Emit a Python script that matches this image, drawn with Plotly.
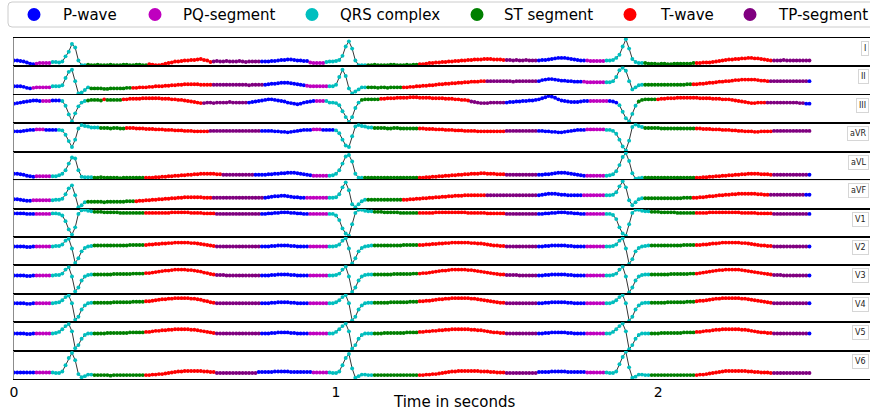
import plotly.graph_objects as go
from plotly.subplots import make_subplots

FS = 100  # samples per second
LEADS = ["I", "II", "III", "aVR", "aVL", "aVF", "V1", "V2", "V3", "V4", "V5", "V6"]
CLASSES = ["P-wave", "PQ-segment", "QRS complex", "ST segment", "T-wave", "TP-segment"]
CODES = ["P", "PQ", "QRS", "ST", "T", "TP"]
COLORS = ["#0000ff", "#bf00bf", "#00bfbf", "#008000", "#ff0000", "#800080"]
X_TICKS = [0, 1, 2]

# ---- signal amplitudes (arbitrary units), one sample every 10 ms ----
SIG_I = [5,5,4,3,1,-1,-2, -1,0,0,0,0, 2,2,1,3,13,22,37,30,5,-4,-4,
         -3,-4,-4,-3,-4,-4,-4,-3,-4,-4,-4,-3,-3,-4,-4,-3,-3,-4,-4,
         -2,-3,-4,-4,-3,-1,0,1,3,3,4,5,5,6,6,7,8,6,5,2,
         3,4,3,3,4,3,3,3,4,3,2,3,3,3,3,
         3,3,3,4,4,5,6,6,7,7,6,5,5,4,4,
         1,0,0,0,0,
         2,3,3,4,6,14,32,42,28,5,-4,-4,-4,
         -4,-4,-3,-4,-4,-4,-4,-3,-3,-4,-4,-4,-3,-4,-3,-3,
         -2,-2,-1,0,0,1,1,2,2,3,3,4,4,5,5,6,6,7,7,7,8,8,8,7,7,7,6,
         6,6,5,6,5,5,6,5,5,5,
         5,6,6,7,8,9,10,10,10,9,8,7,6,5,5,
         5,4,4,4,4,4,
         5,5,6,10,16,32,46,28,8,2,0,0,
         0,-1,-1,-1,-2,-1,-1,-2,-2,-1,-1,-1,-1,-1,-1,0,
         0,0,1,1,1,2,3,4,5,6,7,7,8,8,9,9,10,10,9,9,8,7,6,5,
         5,5,5,6,5,5,5,5,5,5,5,5]
SIG_II = [3,3,3,2,0,-1, 0,1,1,1,1,1, 3,3,3,5,19,31,35,13,-11,-9,-4,1,
          -1,-1,-1,-1,-2,-2,-1,-1,-1,-1,-1,0,0,
          0,0,1,1,1,2,2,3,3,3,4,4,5,5,6,6,7,7,7,7,7,6,6,6,6,
          6,6,6,6,6,6,6,6,6,6,6,5,6,6,6,6,
          6,7,8,8,9,10,10,10,9,8,7,6,5,
          4,3,3,3,3,3,3,
          3,3,6,21,35,23,-1,-11,-7,-3,1,1,
          1,1,1,0,1,1,0,1,1,1,1,
          1,1,2,2,3,3,4,4,5,5,6,7,7,8,8,9,9,10,10,11,11,12,12,12,13,13,
          13,13,13,13,13,13,13,13,12,13,13,13,13,13,13,13,
          13,15,16,17,17,16,15,14,14,13,13,12,12,12,
          12,11,11,11,11,11,11,
          11,11,13,21,34,39,33,13,-3,1,5,6,
          6,6,6,6,6,6,6,6,6,6,6,6,6,7,7,
          7,7,8,8,9,10,10,11,12,12,13,13,14,15,15,16,16,16,16,16,15,14,14,13,
          13,13,13,13,13,13,13,13,13,13,13,13,
          13]
SIG_III = [-5,-4,-3,-2,-1,0,1,1,0, 0,0,0, 1,1,1, 0,-9,-25,-38,-23,-10,-3,0,
           1,2,2,2,1, 3, 2,2,2,2,2,
           3,3,4,4,4,4,5,5,5,5,5,5,4,4,4,3,3,2,2,1,0,-1,-2,-3,-4,
           -4,-3,-3,-4,-3,-3,-3,-3,-2,-3,-3,-3,-3,-3,
           -3,-2,-1,0,1,2,3,3,2,1,0,-1,-3,-4,-5,-6,-5,-3,-2,-1,0,
           0,0,0,
           0,-3,-3,-4,-8,-19,-30,-39,-30,-13,-3,
           2,3,3,3,3,3,
           4,4,5,5,5,6,6,6,6,7,7,7,6,6,6,6,5,5,5,5,4,4,4,3,3,2,2,1,
           -1,-2,-3,-4,-4,-4,-3,-3,-3,-3,-3,
           -3,-2,-2,-1,-1,0,0,1,1,2,3,5,7,9,8,6,3,1,0,-1,-2,-2,-2,-1,0,0,
           0,0,0,0,0,0,
           0,-1,-3,
           -8,-20,-32,-38,-24,-9,
           -1,2,3,3,3,3,
           3,4,4,5,5,5,6,6,6,6,6,6,6,5,5,5,5,4,4,4,3,3,3,2,1,0,-1,-2,-3,-4,-4,-3,-3,-3,
           -3,-3,-3,-3,-3,-3,-3,-3,-3,-3,-4,-4,
           -5,-5]
SIG_AVR = [-1,-1,-1,0,1,2,2, 3,3,3, 2,2,2,2,
           2,1,-8,-21,-33,-18,5,12,10,9,7,7,7,
           6,6,6,5,6,6,5,5,
           6,6,6,5,5,5,4,4,4,3,3,3,2,2,2,1,1,1,0,0,0,-1,-1,-1,-1,-1,
           0,0,0,0,0,0,0,0,0,0,0,0,0,0,0,0,
           0,0,0,0,-1,-1,-2,-2,-3,-2,-1,0,1,2,2,2,
           3,3,3, 2,2,2,2,
           1,-5,-18,-30,-33,-11,9,12,10,9,7,7,
           6,6,6,6,5,5,6,6,5,5,5,5,5,5,
           5,5,4,4,4,3,3,3,2,2,2,1,1,1,0,0,0,0,-1,-1,-1,-1,-1,-1,-1,-1,-1,
           0,0,0,0,0,0,0,0,0,0,
           0,0,-1,-1,-2,-2,-3,-3,-2,-1,0,1,2,2,2,
           3,3,3,3,3,3,
           2,2,0,-6,-18,-32,-40,-20,8,13,10,8,
           6,6,6,6,6,5,5,5,5,5,5,5,5,5,5,5,
           5,5,4,4,4,3,3,3,2,2,2,1,1,0,0,-1,-1,-1,-2,-2,-1,-1,-1,-1,
           0,0,0,0,0,0,0,0,0,0,0,0]
SIG_AVL = [5,5,4,3,1,0,-1, 0,0,0,0,0,
           0,0,2,5,12,25,37,35,12,-1,-2,-2,-2,
           -3,-3,-2,-3,-3,-3,-3,-3,-4,-3,-3,-3,-3,-3,-3,-3,
           -3,-3,-3,-2,-2,-1,-1,0,0,1,1,2,2,3,3,4,4,5,5,5,5,5,4,4,
           3,3,3,3,3,3,3,3,3,3,
           3,3,3,3,4,4,5,5,6,6,7,7,7,6,5,4,3,2,
           1,1,1,1,1,
           1,2,5,12,25,39,42,29,5,-3,-3,
           -3,-3,-3,-3,-3,-3,-3,-3,-3,-3,-3,-3,-3,-3,-3,-3,-3,
           -3,-3,-2,-2,-1,-1,0,0,1,1,2,2,3,3,4,4,5,5,5,6,6,5,5,5,4,4,4,
           3,3,3,3,3,3,3,3,3,3,
           3,3,4,4,5,6,7,7,7,6,5,4,3,2,1,
           1,1,1,1,1,1,
           1,2,4,10,22,38,46,30,6,-5,-4,-3,
           -3,-3,-3,-3,-3,-3,-3,-3,-3,-3,-3,-3,-3,-3,-3,-3,
           -3,-3,-2,-2,-1,-1,0,0,1,1,2,2,3,3,4,4,5,5,5,5,4,4,4,3,
           3,3,3,3,3,3,3,3,3,3,3,
           3]
SIG_AVF = [2,2,1,0,-1,-1, 0,0,0,0,0,0,
           0,1,1,3,12,24,30,10,-14,-10,-4,
           -3,-3,-3,-3,-3,-4,-3,-3,-3,-3,-3,-3,-2,-2,-2,
           -2,-1,-1,0,0,1,1,2,2,3,3,4,4,5,5,6,6,6,6,6,6,5,5,5,
           5,5,5,5,5,5,5,5,5,5,5,5,5,5,5,5,
           5,6,7,8,8,9,9,8,7,6,6,5,5,
           5,5,5,5,5,5,5,
           5,5,6,12,26,36,20,-8,-14,-8,-2,1,
           1,1,1,1,1,1,1,1,1,1,1,
           1,1,2,2,3,3,4,4,5,5,6,6,7,7,8,8,9,9,9,10,10,10,10,10,10,10,
           10,10,10,10,10,10,10,10,10,10,10,10,10,10,10,10,
           10,11,12,13,13,13,12,11,11,10,10,10,10,10,
           10,10,10,10,10,10,10,
           10,10,11,16,28,38,26,0,-10,-4,2,4,
           4,4,4,4,4,4,4,4,4,4,4,4,5,5,5,
           5,5,6,6,7,8,8,9,10,10,11,11,12,12,13,13,13,13,13,13,12,12,11,11,
           11,11,11,11,11,11,11,11,11,11,11,
           11,11]
SIG_V1 = [1,1,1,1,0,0,0, 0,0,0,0,0,
          1,1,0,-3,-14,-30,-40,-26,0,7,8,6,5,
          4,4,4,3,3,3,3,3,2,2,2,2,2,2,2,2,
          2,2,2,2,2,2,2,2,3,3,3,3,3,3,2,2,2,2,1,1,1,1,
          0,0,0,0,0,0,0,0,0,0,0,0,0,0,
          0,0,1,1,2,2,3,3,3,2,2,1,1,0,0,
          0,0,0,0,0,0,
          0,0,-3,-12,-28,-38,-42,-20,2,8,8,6,5,5,
          4,4,4,3,3,3,3,3,2,2,2,2,2,2,
          2,2,2,2,2,3,3,3,3,3,3,3,3,3,3,2,2,2,2,2,2,1,1,1,1,1,1,
          0,0,0,0,0,0,0,0,0,0,
          0,0,1,1,2,2,3,3,3,2,2,1,1,0,0,
          0,0,0,0,0,0,
          0,0,-2,-10,-26,-38,-42,-20,2,8,8,6,5,5,
          4,4,4,3,3,3,3,3,2,2,2,2,2,2,
          2,2,2,2,3,3,3,3,3,3,3,3,3,3,2,2,2,2,2,1,1,1,1,1,
          0,0,0,0,0,0,0,0,0,0,0,
          0]
SIG_V2 = [0,0,0,0,-1,-1,0, 0,0,0,0,0,
          0,1,1,4,12,16,-4,-34,-24,-10,-3,0,1,
          2,2,2,2,2,2,2,2,2,2,2,3,3,3,3,3,
          3,4,4,5,5,6,6,7,7,8,8,8,8,8,7,7,6,5,4,3,2,1,
          0,0,0,0,0,0,0,0,0,0,0,0,0,0,
          0,0,0,1,1,2,2,2,2,1,1,0,0,0,0,
          0,0,0,0,0,0,
          0,0,1,4,12,17,-4,-35,-24,-10,-3,0,1,2,
          2,2,2,2,2,2,2,2,2,3,3,3,3,3,
          3,3,4,4,5,5,6,6,7,7,8,8,8,8,8,8,7,7,6,6,5,4,3,2,2,1,1,
          0,0,0,0,0,0,0,0,0,0,
          0,0,1,1,2,2,2,2,2,1,1,0,0,0,0,
          0,0,0,0,0,0,
          0,0,1,4,12,17,-4,-36,-26,-10,-3,0,1,2,
          2,2,2,2,2,2,2,2,2,2,3,3,3,3,
          3,3,4,4,5,6,6,7,8,8,8,8,8,8,7,7,6,5,4,3,2,2,1,1,
          0,0,0,0,0,0,0,0,0,0,0,
          0]
SIG_V3 = [0,0,0,0,-1,-1,0, 0,0,0,0,0,
          0,1,1,4,12,17,-2,-32,-24,-10,-2,1,2,
          2,2,2,2,2,2,3,3,3,3,3,3,4,4,4,4,
          5,5,6,7,8,9,10,10,11,12,12,12,12,11,11,10,9,8,6,5,3,2,
          1,1,1,0,0,0,0,0,0,0,0,0,0,0,
          0,0,0,1,1,2,2,2,2,1,1,0,0,0,0,
          0,0,0,0,0,0,
          0,0,1,4,12,18,-2,-33,-24,-10,-2,1,2,2,
          2,2,2,2,2,2,3,3,3,3,3,3,4,4,
          4,5,5,6,7,8,9,10,10,11,12,12,12,12,12,11,11,10,9,8,7,6,5,4,3,2,2,
          1,1,1,1,0,0,0,0,0,0,
          0,0,1,1,2,2,2,2,2,1,1,0,0,0,0,
          0,0,0,0,0,0,
          0,0,1,4,12,18,-2,-34,-24,-10,-2,1,2,2,
          2,2,2,2,2,2,3,3,3,3,3,3,4,4,
          4,5,6,7,8,9,10,11,11,12,12,12,12,12,11,10,9,8,7,6,5,4,3,2,
          1,1,1,0,0,0,0,0,0,0,0,
          0]
SIG_V4 = [0,0,0,0,-1,-1,0, 0,0,0,0,0,
          0,1,2,6,12,15,0,-32,-26,-12,-4,0,1,
          1,1,1,1,1,1,2,2,2,2,2,2,3,3,3,3,
          4,4,5,6,7,8,8,9,9,10,10,10,10,10,9,9,8,7,5,4,2,1,
          0,0,0,0,0,0,0,0,0,0,0,0,0,0,
          0,0,0,1,1,2,2,2,2,1,1,0,0,0,0,
          0,0,0,0,0,0,
          0,0,2,6,12,16,0,-33,-26,-12,-4,0,1,1,
          1,1,1,1,1,2,2,2,2,2,2,3,3,3,
          4,4,5,5,6,7,8,8,9,9,10,10,10,10,10,10,9,9,8,7,6,5,4,3,2,1,1,
          0,0,0,0,0,0,0,0,0,0,
          0,0,1,1,2,2,2,2,2,1,1,0,0,0,0,
          0,0,0,0,0,0,
          0,0,2,6,12,16,0,-34,-26,-12,-4,0,1,1,
          1,1,1,1,1,2,2,2,2,2,2,3,3,3,
          4,5,5,6,7,8,9,9,10,10,10,10,10,10,9,9,8,7,6,5,4,3,2,1,
          0,0,0,0,0,0,0,0,0,0,0,
          0]
SIG_V5 = [0,0,0,0,-1,-1,0, 0,0,0,0,0,
          0,1,3,8,14,18,4,-28,-22,-10,-3,0,0,
          0,0,0,0,1,1,1,1,1,1,1,2,2,2,2,2,
          3,3,4,5,5,6,6,7,7,8,8,8,8,8,7,7,6,5,4,3,2,1,
          0,0,0,0,0,0,0,0,0,0,0,0,0,0,
          0,0,0,1,1,2,2,2,2,1,1,0,0,0,0,
          0,0,0,0,0,0,
          0,0,3,8,14,19,4,-29,-22,-10,-3,0,0,0,
          0,0,0,1,1,1,1,1,1,1,2,2,2,2,
          3,3,4,4,5,5,6,6,7,7,8,8,8,8,8,8,7,7,6,6,5,4,3,2,2,1,1,
          0,0,0,0,0,0,0,0,0,0,
          0,0,1,1,2,2,2,2,2,1,1,0,0,0,0,
          0,0,0,0,0,0,
          0,0,3,8,14,19,4,-30,-22,-10,-3,0,0,0,
          0,0,0,1,1,1,1,1,1,1,2,2,2,2,
          3,3,4,5,5,6,7,7,8,8,8,8,8,8,7,7,6,5,4,3,2,2,1,1,
          0,0,0,0,0,0,0,0,0,0,0,
          0]
SIG_V6 = [0,0,0,0,0,0,0, 0,0,0,0,0,
          0,-1,-1,2,14,28,38,24,-3,-9,-7,-4,-4,
          -5,-5,-5,-5,-5,-6,-5,-5,-5,-5,-5,-5,-5,-5,-5,-5,
          -5,-5,-4,-4,-3,-3,-2,-1,0,1,2,2,3,3,3,3,3,3,2,2,1,1,
          -1,-1,-1,-1,-1,-1,-1,-1,-1,-1,-1,-1,-1,
          1,1,1,1,1,2,2,2,2,2,1,1,1,1,1,1,1,
          0,0,0,0,0,
          0,-1,-1,2,14,28,36,8,-10,-7,-4,-4,-5,-5,
          -5,-5,-5,-5,-5,-5,-5,-5,-5,-5,-5,-5,-5,-5,
          -5,-5,-4,-4,-3,-3,-2,-1,0,1,2,2,3,3,3,3,3,3,3,2,2,2,1,1,0,0,0,
          -1,-1,-1,-1,-1,-1,-1,-1,-1,-1,
          1,1,1,1,2,2,2,2,2,1,1,1,1,1,1,
          0,0,0,0,0,0,
          0,-1,-1,2,16,30,40,10,-10,-8,-4,-4,-5,-5,
          -5,-5,-5,-5,-5,-5,-5,-5,-5,-5,-5,-5,-5,-5,
          -5,-4,-4,-3,-2,-1,0,1,2,3,3,3,3,3,3,3,2,2,1,1,0,0,0,-1,
          -1,-1,-1,-1,-1,-1,-1,-1,-1,-1,-1,-1]

# ---- segment annotations: (first sample index, segment code) ----
SEG_I = [(0,"P"),(7,"PQ"),(12,"QRS"),(23,"ST"),(42,"T"),(62,"TP"),(77,"P"),(92,"PQ"),(97,"QRS"),
         (110,"ST"),(126,"T"),(153,"TP"),(163,"P"),(178,"PQ"),(184,"QRS"),(196,"ST"),(212,"T"),(236,"TP")]
SEG_II = [(0,"P"),(6,"PQ"),(12,"QRS"),(24,"ST"),(37,"T"),(62,"TP"),(78,"P"),(91,"PQ"),(98,"QRS"),
          (110,"ST"),(121,"T"),(147,"TP"),(163,"P"),(177,"PQ"),(184,"QRS"),(196,"ST"),(211,"T"),(235,"TP"),(247,"P")]
SEG_III = [(0,"P"),(9,"PQ"),(12,"P"),(15,"QRS"),(23,"ST"),(28,"T"),(29,"ST"),(34,"T"),(59,"TP"),(73,"P"),
           (94,"PQ"),(97,"QRS"),(108,"ST"),(114,"T"),(142,"TP"),(153,"P"),(179,"PQ"),(185,"P"),(188,"QRS"),
           (194,"ST"),(200,"T"),(234,"TP"),(246,"P")]
SEG_AVR = [(0,"P"),(7,"PQ"),(10,"P"),(14,"QRS"),(27,"ST"),(35,"T"),(61,"TP"),(77,"P"),(93,"PQ"),(96,"P"),
           (100,"QRS"),(112,"ST"),(126,"T"),(153,"TP"),(163,"P"),(178,"PQ"),(184,"QRS"),(196,"ST"),(212,"T"),(236,"TP")]
SEG_AVL = [(0,"P"),(7,"PQ"),(12,"QRS"),(25,"ST"),(41,"T"),(65,"TP"),(75,"P"),(93,"PQ"),(98,"QRS"),
           (109,"ST"),(126,"T"),(153,"TP"),(163,"P"),(178,"PQ"),(184,"QRS"),(196,"ST"),(212,"T"),(236,"TP"),(247,"P")]
SEG_AVF = [(0,"P"),(6,"PQ"),(12,"QRS"),(23,"ST"),(38,"T"),(62,"TP"),(78,"P"),(91,"PQ"),(98,"QRS"),
           (110,"ST"),(121,"T"),(147,"TP"),(163,"P"),(177,"PQ"),(184,"QRS"),(196,"ST"),(211,"T"),(235,"TP"),(246,"P")]
SEG_V = [(0,"P"),(7,"PQ"),(12,"QRS"),(25,"ST"),(41,"T"),(63,"TP"),(77,"P"),(92,"PQ"),(98,"QRS"),
         (112,"ST"),(126,"T"),(153,"TP"),(163,"P"),(178,"PQ"),(184,"QRS"),(198,"ST"),(212,"T"),(236,"TP"),(247,"P")]
SEG_V6 = [(0,"P"),(7,"PQ"),(12,"QRS"),(25,"ST"),(41,"T"),(63,"TP"),(76,"P"),(93,"PQ"),(98,"QRS"),
          (112,"ST"),(126,"T"),(153,"TP"),(163,"P"),(178,"PQ"),(184,"QRS"),(198,"ST"),(212,"T"),(236,"TP")]

SIGNALS = [SIG_I, SIG_II, SIG_III, SIG_AVR, SIG_AVL, SIG_AVF, SIG_V1, SIG_V2, SIG_V3, SIG_V4, SIG_V5, SIG_V6]
SEGMENTS = [SEG_I, SEG_II, SEG_III, SEG_AVR, SEG_AVL, SEG_AVF, SEG_V, SEG_V, SEG_V, SEG_V, SEG_V, SEG_V6]


def point_colors(n, seg):
    cols = []
    starts = [s for s, _ in seg] + [n]
    for k, (s, code) in enumerate(seg):
        e = min(starts[k + 1], n)
        cols += [COLORS[CODES.index(code)]] * max(e - s, 0)
    return cols[:n]


# ---- page geometry (pixels) ----
W, H = 870, 414
PL, PR, PT, PB = 14, 870, 38, 379          # plot area edges


def px_x(px):
    return (px - PL) / (PR - PL)


def px_y(py):
    return (PB - py) / (PB - PT)


FONT = "DejaVu Sans, Verdana, sans-serif"
NR = len(LEADS)
fig = make_subplots(rows=NR, cols=1, shared_xaxes=True, vertical_spacing=0)

LABEL_FS = 8

for r, (lead, sig, seg) in enumerate(zip(LEADS, SIGNALS, SEGMENTS), start=1):
    t = [i / FS for i in range(len(sig))]
    fig.add_trace(go.Scatter(x=t, y=sig, mode="lines", line=dict(color="black", width=0.8),
                             showlegend=False, hoverinfo="skip"), row=r, col=1)
    fig.add_trace(go.Scatter(x=t, y=sig, mode="markers",
                             marker=dict(size=3.9, color=point_colors(len(sig), seg), line=dict(width=0)),
                             showlegend=False, name=lead), row=r, col=1)
    lo, hi = min(sig), max(sig)
    pad = 0.05 * (hi - lo)
    fig.update_yaxes(range=[lo - pad, hi + pad], showticklabels=False, ticks="", showgrid=False,
                     zeroline=False, showline=True, mirror=False, linecolor="#8c8c8c", linewidth=1.2,
                     row=r, col=1)
    fig.update_xaxes(range=[0, 2.658], showgrid=False, zeroline=False, showline=True, mirror=True,
                     linecolor="black", linewidth=1.2, tickvals=X_TICKS,
                     showticklabels=(r == NR), ticks="", row=r, col=1)
    yref = "y domain" if r == 1 else f"y{r} domain"
    fig.add_annotation(text=lead, xref="paper", yref=yref, x=px_x(869), y=0.63, xanchor="right",
                       yanchor="middle", showarrow=False,
                       font=dict(size=LABEL_FS, color="#222", family=FONT),
                       bgcolor="white", bordercolor="#d6d6d6", borderwidth=1, borderpad=2)

# x-axis title (centred on the full axes width, which runs past the cropped page edge)
fig.add_annotation(text="Time in seconds", xref="paper", yref="paper", x=px_x(454), y=px_y(402),
                   xanchor="center", yanchor="middle", showarrow=False,
                   font=dict(size=15, family=FONT, color="black"))
fig.update_xaxes(tickfont=dict(size=14, family=FONT, color="black"), row=NR, col=1)

# ---- legend drawn at the top, one row ----
LEG_DOT_X = [34, 155, 312, 477, 630, 750]
LEG_TXT_X = [61, 181, 338, 502, 658, 776]
LEG_Y = 14.5
x0, x1, y0, y1, rr = 8, 884, 2, 27, 4
path = (f"M {px_x(x0 + rr)} {px_y(y0)} L {px_x(x1 - rr)} {px_y(y0)} "
        f"Q {px_x(x1)} {px_y(y0)} {px_x(x1)} {px_y(y0 + rr)} L {px_x(x1)} {px_y(y1 - rr)} "
        f"Q {px_x(x1)} {px_y(y1)} {px_x(x1 - rr)} {px_y(y1)} L {px_x(x0 + rr)} {px_y(y1)} "
        f"Q {px_x(x0)} {px_y(y1)} {px_x(x0)} {px_y(y1 - rr)} L {px_x(x0)} {px_y(y0 + rr)} "
        f"Q {px_x(x0)} {px_y(y0)} {px_x(x0 + rr)} {px_y(y0)} Z")
fig.add_shape(type="path", path=path, xref="paper", yref="paper",
              line=dict(color="#cccccc", width=1), fillcolor="white", layer="above")
for name, col, dx, tx in zip(CLASSES, COLORS, LEG_DOT_X, LEG_TXT_X):
    fig.add_shape(type="circle", xref="paper", yref="paper", xsizemode="pixel", ysizemode="pixel",
                  xanchor=px_x(dx), yanchor=px_y(LEG_Y), x0=-6.5, x1=6.5, y0=-6.5, y1=6.5,
                  fillcolor=col, line=dict(width=0), layer="above")
    fig.add_annotation(text=name, xref="paper", yref="paper", x=px_x(tx), y=px_y(LEG_Y),
                       xanchor="left", yanchor="middle", showarrow=False,
                       font=dict(size=15, family=FONT, color="black"))

fig.update_layout(
    width=W, height=H,
    margin=dict(l=PL, r=W - PR, t=PT, b=H - PB),
    paper_bgcolor="white", plot_bgcolor="white",
    font=dict(family=FONT, color="black"),
    showlegend=False,
)

fig.write_html("out.html")
